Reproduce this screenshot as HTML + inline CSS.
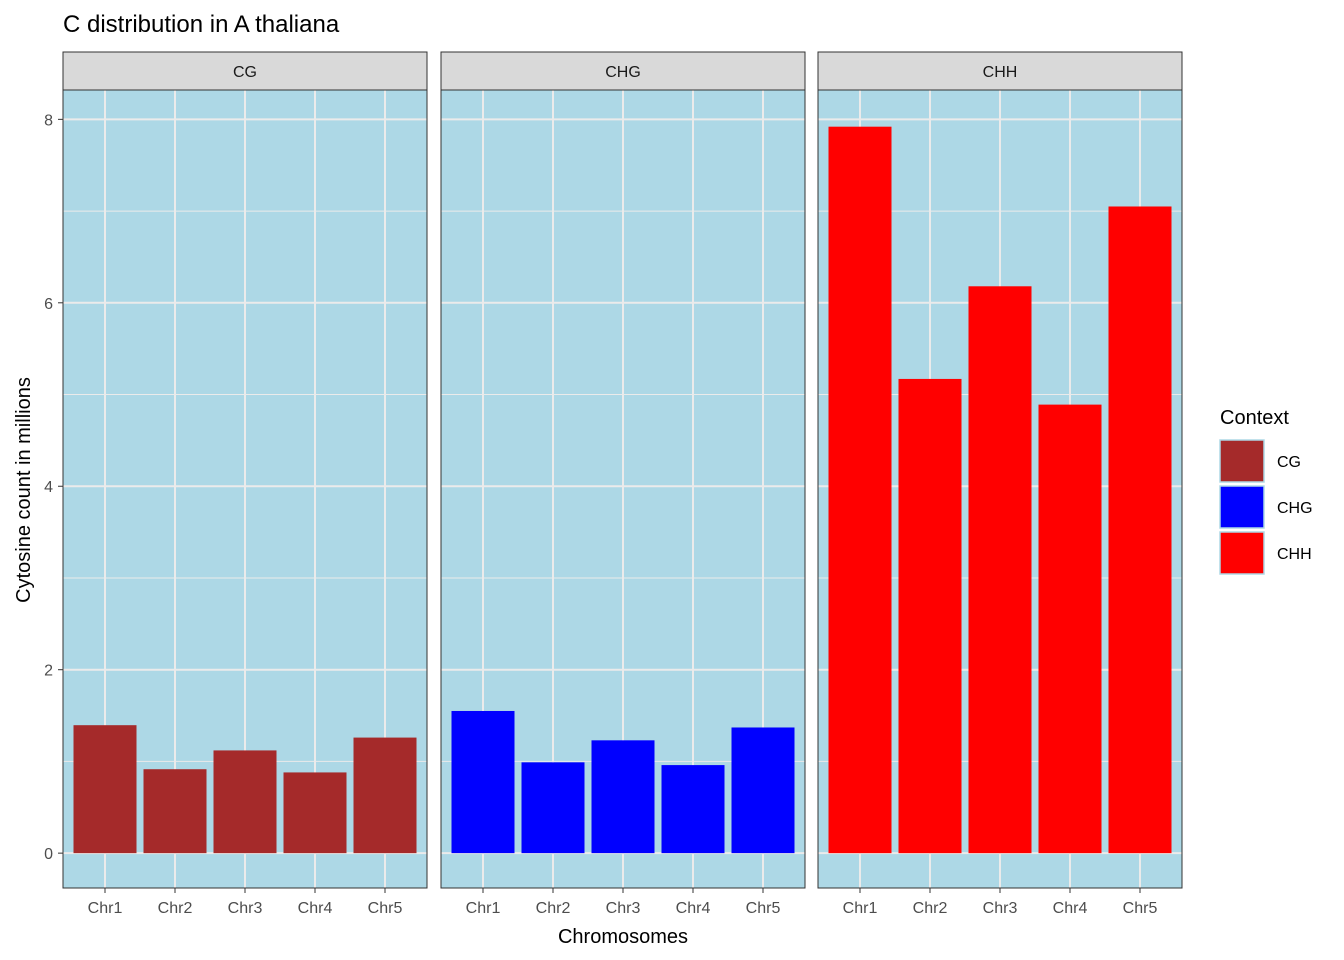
<!DOCTYPE html>
<html><head><meta charset="utf-8"><style>body{margin:0;background:#fff}svg{display:block;font-family:"Liberation Sans",Arial,sans-serif}</style></head>
<body>
<svg id="chart" width="1344" height="960">
<text x="63" y="32" font-size="24" fill="#000">C distribution in A thaliana</text>
<text x="623" y="943" font-size="20" text-anchor="middle">Chromosomes</text>
<text transform="translate(30,490) rotate(-90)" font-size="20" text-anchor="middle">Cytosine count in millions</text>
<g id="panels"></g>
<g>
<text x="1220" y="424" font-size="20">Context</text>
<g id="legend"></g>
</g>
</svg>
<script>
const categories = ["Chr1","Chr2","Chr3","Chr4","Chr5"];
const contexts = ["CG","CHG","CHH"];
const colors = ["#A52A2A","#0000FF","#FF0000"];
const cgValues = [1.395, 0.915, 1.12, 0.88, 1.26];
const chgValues = [1.55, 0.99, 1.23, 0.96, 1.37];
const chhValues = [7.92, 5.17, 6.18, 4.89, 7.05];
const yTicks = [0, 2, 4, 6, 8];
const yMinor = [1, 3, 5, 7];
const series = [cgValues, chgValues, chhValues];

const NS = "http://www.w3.org/2000/svg";
function mk(tag, attrs, parent) { const e = document.createElementNS(NS, tag); for (const k in attrs) e.setAttribute(k, attrs[k]); parent.appendChild(e); return e; }
const panelX = [63, 441, 818], panelW = 364, plotTop = 90, plotBottom = 888;
const yMin = -0.38, yMax = 8.32;
function yScale(v) { return plotBottom - (v - yMin) / (yMax - yMin) * (plotBottom - plotTop); }
function xScale(p, i) { const step = panelW / (categories.length - 1 + 1.2); return panelX[p] + step * (0.6 + i); }
const panels = document.getElementById('panels');
const svgEl = document.getElementById('chart');
contexts.forEach((c, p) => {
  const g = mk('g', {}, panels);
  
  
  const bg = mk('rect', {x: panelX[p], y: plotTop, width: panelW, height: plotBottom - plotTop, fill: '#ADD8E6'}, g);
  
  
  yMinor.forEach(v => mk('line', {x1: panelX[p], x2: panelX[p] + panelW, y1: yScale(v), y2: yScale(v), stroke: '#EBEBEB', 'stroke-width': 1}, g));
  yTicks.forEach(v => mk('line', {x1: panelX[p], x2: panelX[p] + panelW, y1: yScale(v), y2: yScale(v), stroke: '#EBEBEB', 'stroke-width': 2}, g));
  categories.forEach((cat, i) => mk('line', {x1: xScale(p, i), x2: xScale(p, i), y1: plotTop, y2: plotBottom, stroke: '#EBEBEB', 'stroke-width': 2}, g));
  const step = panelW / 5.2, bw = step * 0.9;
  series[p].forEach((v, i) => {
    const r = mk('rect', {x: xScale(p, i) - bw / 2, y: yScale(v), width: bw, height: yScale(0) - yScale(v), fill: colors[p]}, g);
    
    
  });
  mk('rect', {x: panelX[p], y: plotTop, width: panelW, height: plotBottom - plotTop, fill: 'none', stroke: '#333', 'stroke-width': 1}, g);
  const strip = mk('rect', {x: panelX[p], y: 52, width: panelW, height: 38, fill: '#D9D9D9', stroke: '#333', 'stroke-width': 1}, g);
  
  
  const st = mk('text', {x: panelX[p] + panelW / 2, y: 77, 'font-size': 16, 'text-anchor': 'middle', fill: '#1a1a1a'}, g);
  st.textContent = c;
  
  
  categories.forEach((cat, i) => {
    mk('line', {x1: xScale(p, i), x2: xScale(p, i), y1: plotBottom, y2: plotBottom + 5, stroke: '#333'}, g);
    const t = mk('text', {x: xScale(p, i), y: 913, 'font-size': 16, 'text-anchor': 'middle', fill: '#4D4D4D'}, g);
    t.textContent = cat;
    
    
  });
});
yTicks.forEach(v => {
  mk('line', {x1: 58, x2: 63, y1: yScale(v), y2: yScale(v), stroke: '#333'}, svgEl);
  const t = mk('text', {x: 53, y: yScale(v) + 6, 'font-size': 16, 'text-anchor': 'end', fill: '#4D4D4D'}, svgEl);
  t.textContent = v;
  
  
});
const leg = document.getElementById('legend');
contexts.forEach((c, i) => {
  const ky = 440 + i * 46;
  const k = mk('rect', {x: 1220, y: ky, width: 44, height: 42, fill: colors[i], stroke: '#ADD8E6', 'stroke-width': 1.5}, leg);
  
  
  const t = mk('text', {x: 1277, y: ky + 27, 'font-size': 16, fill: '#000'}, leg);
  t.textContent = c;
  
  
});
</script>
</body></html>
